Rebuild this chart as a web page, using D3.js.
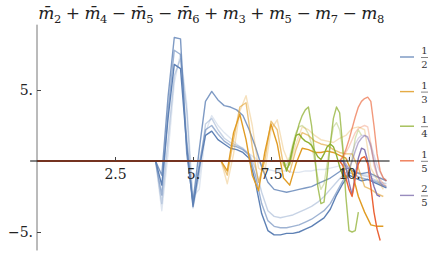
<!DOCTYPE html>
<html lang="en">
<head>
<meta charset="UTF-8">
<title>chart</title>
<script src="https://cdn.jsdelivr.net/npm/d3@7"></script>
<style>
    body { margin: 0; background: #fff; }
    text { font-family: "DejaVu Serif", serif; }
</style>
</head>
<body>
<svg width="434" height="257"></svg>
<script>
    // tick labels
    var xTicks = [2.5, 5, 7.5, 10];
    var xTickLabels = ["2.5", "5.", "7.5", "10."];
    var yTicks = [-5, 5];
    var yTickLabels = ["\u22125.", "5."];

    // legend
    var legendNum = ["1", "1", "1", "1", "2"];
    var legendDen = ["2", "3", "4", "5", "5"];

    // 1/2 family : samples from x = 3.8, step 0.2
    var halfStart = 3.8, halfStep = 0.2;
    var half1 = [0, -1.0, 4.5, 8.7, 8.6, 0.5, -2.9, 0.8, 4.2, 4.9, 4.3, 3.9, 3.8, 3.6, 3.2, 2.2, 1.0, -0.4, -1.5, -2.0, -2.1, -2.2, -2.1, -2.0, -1.9, -1.8, -1.6, -1.4, -1.2, -0.9, -0.6, -0.5, -0.8, -0.9, -0.8, -1.0, -1.2, -1.4];
    var half2 = [0, -1.7, 3.0, 6.8, 6.5, 1.0, -3.2, -0.5, 1.8, 2.1, 1.5, 1.2, 0.9, 0.8, 0.6, 0.2, -1.5, -3.7, -4.9, -5.2, -5.2, -5.1, -5.1, -5.0, -4.8, -4.6, -4.3, -4.0, -3.4, -2.4, -1.6, -1.0, -1.2, -1.4, -1.3, -1.5, -1.7, -1.9];
    var half3 = [0, -2.4, 3.5, 7.8, 7.5, 1.5, -3.0, -0.2, 2.2, 2.5, 1.9, 1.4, 1.1, 1.0, 0.8, 0.4, -1.0, -3.0, -4.2, -4.6, -4.7, -4.7, -4.6, -4.5, -4.3, -4.1, -3.8, -3.5, -3.0, -2.2, -1.4, -0.8, -1.0, -1.2, -1.3, -1.4, -1.6, -1.8];
    var half4 = [0, -3.0, 1.5, 6.0, 7.2, 3.5, -3.3, -1.0, 2.6, 3.0, 2.2, 1.6, 1.3, 1.1, 0.9, 0.5, -0.5, -2.2, -3.5, -3.9, -4.0, -3.9, -3.8, -3.6, -3.4, -3.2, -2.9, -2.5, -2.0, -1.5, -1.0, -0.6, -0.8, -1.0, -1.1, -1.3, -1.5, -1.6];
    var half5 = [0, -3.5, 0.5, 5.5, 7.6, 4.0, -2.5, -2.0, 2.0, 3.2, 2.5, 2.0, 1.6, 1.2, 0.8, 0.5, 0.2, -0.3, -0.6, -0.7, -0.7, -0.7, -0.8, -0.8, -0.7, -0.7, -0.6, -0.6, -0.5, -0.4, -0.3, -0.4, -0.7, -0.9, -1.0, -1.1, -1.2, -1.3];

    // 1/3 family : from x = 5.9, step 0.2
    var thirdStart = 5.9, thirdStep = 0.2;
    var third1 = [0, -0.7, 2.0, 3.3, 1.5, -1.0, -2.1, 0.6, 2.6, 1.2, -1.2, -1.7, -0.2, 0.9, 0.8, 0.6, 0.6, 0.7, 0.6, 0.4, 0.2, -0.8, -2.5, -3.6, -4.5, -4.6, -4.6];
    var third2 = [0, -1.0, 1.5, 3.8, 4.1, 1.0, -1.5, 0.0, 2.8, 2.2, -0.3, -0.8, 0.8, 2.0, 1.8, 1.4, 1.2, 1.1, 0.8, 0.6, 0.5, 0.5, -0.5, -1.8, -2.0, -2.3, -2.5];
    var third3 = [0, -1.6, 0.5, 3.5, 4.6, 2.5, -0.5, -0.8, 2.2, 2.9, 0.8, -0.3, 1.2, 2.4, 2.2, 1.8, 1.5, 1.4, 1.3, 1.6, 1.8, 2.3, 2.4, 2.2, -0.5, -1.3, -2.0];

    // 1/4 family : from x = 7.9, step 0.1
    var quarterStart = 7.9, quarterStep = 0.1;
    var quarter1 = [0, -0.6, -0.2, 0.8, 1.8, 2.6, 3.2, 3.6, 3.8, 2.5, 0.5, -1.8, -3.0, -2.9, -1.0, 1.2, 3.0, 3.8, 3.4, 1.0, -2.5, -4.9, -5.0, -4.9, -3.6];
    var quarter2 = [0, -0.7, 0.0, 1.0, 1.8, 1.9, 1.6, 1.4, 1.3, 1.1, 0.7, 0.3, 0.1, 0.5, 1.0, 1.2, 1.0, 0.4, -0.4, -1.0, -1.2, -0.8];
    var quarter3 = [0, -0.3, 0.3, 1.2, 2.0, 2.4, 2.5, 2.3, 1.9, 1.2, 0.0, -1.2, -2.0, -1.6, -0.2, 1.2, 2.4, 2.7, 2.2, 0.8, -0.6, -1.0, 0.2, 1.6, 2.2, 1.8];

    // 1/5 family : from x = 9.7, step 0.1
    var fifthStart = 9.7, fifthStep = 0.1;
    var fifth1 = [0, -0.3, -1.2, -2.0, -2.5, -1.2, -0.2, 0.2, 0.3, -0.2, -1.8, -3.6, -4.8, -5.6];
    var fifth2 = [0, 0.3, 0.8, 1.5, 2.3, 3.1, 3.8, 4.2, 4.4, 4.5, 4.2, 2.5, 0.5, -0.7, -1.2, -1.4];
    var fifth3 = [0, 0.2, 0.6, 1.0, 1.5, 2.0, 2.3, 2.4, 2.5, 2.4, 1.2, -0.3, -1.0, -1.3, -1.6, -1.8];

    // 2/5 family : from x = 9.8, step 0.1
    var twoFifthStart = 9.8, twoFifthStep = 0.1;
    var twoFifth1 = [0, -0.4, -1.5, -2.4, -1.0, 0.2, 0.9, 0.8, 0.0, -1.0, -1.8, -2.4, -2.5];
    var twoFifth2 = [0, -0.2, -0.6, 0.0, 0.7, 1.3, 1.6, 1.8, 1.7, 1.0, 0.0, -0.9, -1.5, -1.8];
    var twoFifth3 = [0, 0.0, 0.2, 0.6, 1.2, 1.6, 1.8, 1.8, 1.6, 1.2, 0.4, -0.3, -0.8, -1.2, -1.4];

    var colors = ["#5E81B5", "#E19C24", "#8FB032", "#EB6235", "#8778B3"];

    var families = [
        {c: 0, start: halfStart, step: halfStep, lines: [half5, half4, half3, half1, half2], op: [0.2, 0.35, 0.6, 0.8, 1]},
        {c: 1, start: thirdStart, step: thirdStep, lines: [third3, third2, third1], op: [0.3, 0.6, 1]},
        {c: 2, start: quarterStart, step: quarterStep, lines: [quarter3, quarter1, quarter2], op: [0.35, 0.75, 1]},
        {c: 4, start: twoFifthStart, step: twoFifthStep, lines: [twoFifth3, twoFifth2, twoFifth1], op: [0.3, 0.6, 1]},
        {c: 3, start: fifthStart, step: fifthStep, lines: [fifth3, fifth2, fifth1], op: [0.3, 0.65, 1]}
    ];

    var svg = d3.select("svg");

    var x = d3.scaleLinear().domain([0, 10]).range([37, 349]);
    var y = d3.scaleLinear().domain([-5, 5]).range([232, 90]);

    var line = d3.line()
        .x(function(d) { return x(d[0]); })
        .y(function(d) { return y(d[1]); });

    // series
    var plot = svg.append("g");
    families.forEach(function(f) {
        f.lines.forEach(function(vals, i) {
            var pts = [[0, 0]].concat(vals.map(function(v, k) { return [f.start + k * f.step, v]; }));
            plot.append("path")
                .attr("d", line(pts))
                .attr("fill", "none")
                .attr("stroke", colors[f.c])
                .attr("stroke-opacity", f.op[i])
                .attr("stroke-width", 1.4)
                .attr("stroke-linejoin", "round");
        });
    });

    // axes
    svg.append("line")
        .attr("x1", x(0)).attr("x2", x(0))
        .attr("y1", y(9.6)).attr("y2", y(-6.3))
        .attr("stroke", "#777").attr("stroke-width", 1);
    svg.append("line")
        .attr("x1", x(-0.22)).attr("x2", x(11.3))
        .attr("y1", y(0)).attr("y2", y(0))
        .attr("stroke", "#000").attr("stroke-opacity", 0.65).attr("stroke-width", 1.3);

    var xAxis = d3.axisBottom(x)
        .tickValues(xTicks)
        .tickSizeInner(-4).tickSizeOuter(0).tickPadding(8)
        .tickFormat(function(d, i) { return xTickLabels[i]; });
    var gx = svg.append("g").attr("transform", "translate(0," + y(0) + ")").call(xAxis)
        .attr("font-family", null).attr("font-size", null);
    gx.select(".domain").remove();
    gx.selectAll("line").attr("stroke", "#444");
    gx.selectAll("text").attr("font-size", 14).attr("fill", "#222");

    var yAxis = d3.axisLeft(y)
        .tickValues(yTicks)
        .tickSizeInner(-4).tickSizeOuter(0).tickPadding(4)
        .tickFormat(function(d, i) { return yTickLabels[i]; });
    var gy = svg.append("g").attr("transform", "translate(" + x(0) + ",0)").call(yAxis)
        .attr("font-family", null).attr("font-size", null);
    gy.select(".domain").remove();
    gy.selectAll("line").attr("stroke", "#444");
    gy.selectAll("text").attr("font-size", 14).attr("fill", "#222");

    // title
    var titleTerms = [
        {sign: "", bar: true, sub: "2"}, {sign: "+", bar: true, sub: "4"},
        {sign: "\u2212", bar: true, sub: "5"}, {sign: "\u2212", bar: true, sub: "6"},
        {sign: "+", bar: false, sub: "3"}, {sign: "+", bar: false, sub: "5"},
        {sign: "\u2212", bar: false, sub: "7"}, {sign: "\u2212", bar: false, sub: "8"}
    ];
    var title = svg.append("text")
        .attr("x", 211).attr("y", 19)
        .attr("text-anchor", "middle")
        .attr("font-size", 17)
        .attr("fill", "#222")
        .attr("textLength", 346).attr("lengthAdjust", "spacing");
    titleTerms.forEach(function(t, i) {
        if (t.sign) title.append("tspan").attr("dy", -4).text(" " + t.sign + " ");
        title.append("tspan").attr("font-style", "italic").text(t.bar ? "m\u0304" : "m");
        title.append("tspan").attr("font-size", 11.5).attr("dy", 4).text(t.sub);
    });

    // legend
    var lg = svg.append("g");
    legendNum.forEach(function(n, i) {
        var cy = 57 + i * 34.6;
        lg.append("line")
            .attr("x1", 400).attr("x2", 414).attr("y1", cy).attr("y2", cy)
            .attr("stroke", colors[i]).attr("stroke-opacity", 0.85).attr("stroke-width", 1.4);
        lg.append("text").attr("x", 424.5).attr("y", cy - 3).attr("text-anchor", "middle")
            .attr("font-size", 10).attr("fill", "#333").text(n);
        lg.append("line")
            .attr("x1", 421).attr("x2", 428).attr("y1", cy + 0.5).attr("y2", cy + 0.5)
            .attr("stroke", "#333").attr("stroke-width", 0.6);
        lg.append("text").attr("x", 424.5).attr("y", cy + 11).attr("text-anchor", "middle")
            .attr("font-size", 10).attr("fill", "#333").text(legendDen[i]);
    });
</script>
</body>
</html>
